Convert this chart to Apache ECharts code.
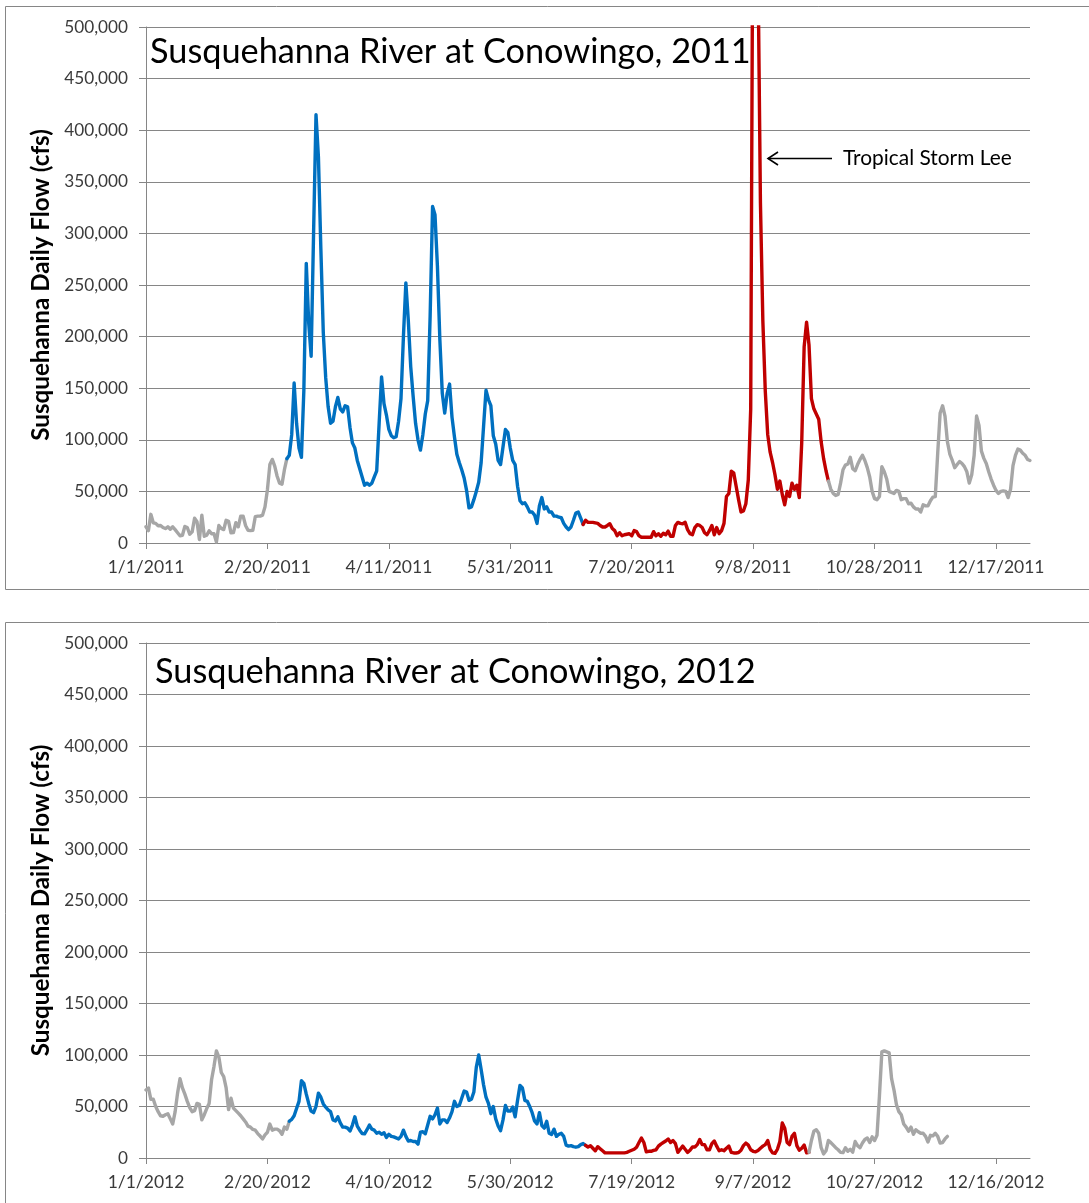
<!DOCTYPE html>
<html><head><meta charset="utf-8">
<script src="https://cdn.jsdelivr.net/npm/echarts@6/dist/echarts.min.js"></script>
<style>html,body{margin:0;padding:0;background:#fff}#c{width:1089px;height:1203px}</style>
</head><body><div id="c"></div><script>
// ---------- data ----------
const tickDays = [0, 50, 100, 150, 200, 250, 300, 350];
const tickLabels2011 = ['1/1/2011','2/20/2011','4/11/2011','5/31/2011','7/20/2011','9/8/2011','10/28/2011','12/17/2011'];
const tickLabels2012 = ['1/1/2012','2/20/2012','4/10/2012','5/30/2012','7/19/2012','9/7/2012','10/27/2012','12/16/2012'];
const flowTicks = [0, 50000, 100000, 150000, 200000, 250000, 300000, 350000, 400000, 450000, 500000];

// daily flow in thousand cfs, index = day of year (0 = Jan 1)
const flow2011 = [
 15.7,12,27.8,19.6,19,16.7,17,15,14,15.7, 13.4,15.7,13,10,7,7.5,16,15,8.5,10.8,
 24,20.6,3.3,27,6.5,7.5,11.8,9,9,1, 17,14,13,22,21,9.8,10,19.6,15.7,26,
 26,17,12.4,12,12.4,25.5,26,26,27,35, 51.7,76,81,74.5,64.7,58,57,71,81.7,85,
 105,155,116,92,83,148,271,213,181,300, 415,374,285,204,160,132,116,118,132,141,
 130,127,133,132,112,97,92,80,72,64, 56,58,56,58,64,70,116,161,135,124,
 110,104,102,103,118,140,200,252,216,171, 142,116,100,90,105,125,138,220,326,318,
 268,197,145,126,145,154,122,103,86,78, 71,63,51,34,35,42,50,59,78,113,
 148,139,133,104,96,80,76,93,110,107, 92,80,76,55,41,38,39,35,30,30,
 27,19,36,44,33,35,30,30,26,26, 25,24.5,19,15.5,13,15.5,22,29,30,24,
 18,22,20,20,20,19.5,19,17,15.5,15.5, 17,18.7,14,12,7,10,7,8,8.5,9,
 7,12,11,7,5.6,5.6,5.6,5.6,5.6,11, 7,9,6.5,9.5,8,11.5,6.5,6.5,17,20,
 19,18.7,20,13,9,8,15,17.7,17,15, 10,8,12,17,8,15,9,12,19,45,
 48,69.5,68,55,42,30,31,38,61,130, 700,780,560,330,215,147,105,88,78,66,
 52,60,47,37,50,45,58,52,56,44, 97,190,214,192,140,130,125,120,98,82,
 70,60,52,48,46,47,58,71,75.5,76.5, 83,72,70,76,81,85,80,73,64,50,
 43,42,45,74,69,62,50,49,48,51, 50,42,43,43,38,38.5,35,33,33,30,
 37,36,36,41,44.5,45,87,126,133,123, 98,86,80,73,76,79,77,74,69,58,
 66,85,123,114,89,82,77,69,62,56, 51,48,50,50.5,50,44,52,75,85,91,
 90,87,85,81,80
];
const flow2012 = [
 66,68,57,57,50,45,41,40.5,42,43, 38,33,45,63,77,68,62,55,49,45,
 46,53,52,37,42,48,53,76,89,104, 98,83,79,68,47,58,48.5,46,43.5,41,
 38,35,31,30,27.7,27,23.7,21.3,18.5,22.5, 25,33,27,28,28,26.5,23,30,28,35.7,
 37.5,41,48,55,75,72.5,62,53,45.5,44, 50,63,59,52.5,49.3,46.7,45,37,36,40,
 34,30,30,29,26.2,32,40,31,27,23.8, 23.5,27.5,32,28,27,24,25,23,24.5,20,
 23,21,20.5,19.5,18.5,21,27,21,16.5,17, 16,16,13.5,25,25.5,23.5,32,40.5,38,42,
 48.5,33,37,37,34.5,39,45,55,50,51, 58,65,64,56,57,64,88,100,86,71,
 59,53,43,50,38,31,26.5,37,51,45.5, 45.5,49.5,40,56,70.5,68,56,55,50,44,
 36,33,44,31.5,29,35.7,24,22.8,28,21, 23,24,21,12.5,11.5,12,11,10.5,11,13,
 14,12.3,10.7,12,9.5,7,11,9,7,5, 5,5,5,5,5,5,5,5,5.5,6.5,
 7.5,8.5,10.5,15,19.5,15,6,6.5,6.5,7.3, 8,11.5,13.5,15,16.5,18.5,15,17,14,5.5,
 8.5,11.5,8.5,5.5,7.5,10.7,10.7,13,18,13, 13,8,8,14,16.5,11.5,7,8,7,9.5,
 11.5,5.5,4.9,4.9,5.3,7.5,12,14.5,12.5,8, 6.5,6,7.3,9.5,11.5,13,17,8.5,5,4.5,
 8.5,16,34,29,15,13,21,24,12,7.5, 9.5,12.5,5,5.5,17,26,27.5,24,10,4,
 7,17,15,12.5,10,8,5.5,5.2,10,6.5, 8.5,5.7,16,12,10,14.5,18,19.5,15,20.5,
 17,22,60,103,104,103,102,77,66,52, 45,42,33,30,26,30,23,27.5,25.5,24,
 24,21,15.5,22,21.5,24,21,14.5,15,18.5, 21
];
// days where the colour (season) changes: winter | spring | summer | autumn
const breaks2011 = [58, 180, 281];
const breaks2012 = [59, 181, 273];
const titles = ['Susquehanna River at Conowingo, 2011', 'Susquehanna River at Conowingo, 2012'];
const yAxisTitle = 'Susquehanna Daily Flow (cfs)';
const annotationText = 'Tropical Storm Lee';

// ---------- build ----------
const GRAY = '#A6A6A6', BLUE = '#0070C0', RED = '#C00000';
const AXIS = '#868686', TXT = '#3A3A3A';
const FONT = 'Lato';

function seg(arr, from, to) {
  const out = [];
  for (let d = from; d <= Math.min(to, arr.length - 1); d++) out.push([d, arr[d] * 1000]);
  return out;
}
function yearSeries(arr, br, idx) {
  const bounds = [0, br[0], br[1], br[2], arr.length - 1];
  const cols = [GRAY, BLUE, RED, GRAY];
  return cols.map((c, i) => ({
    type: 'line', xAxisIndex: idx, yAxisIndex: idx,
    data: seg(arr, bounds[i], bounds[i + 1]),
    showSymbol: false, symbol: 'none', clip: true, z: 3,
    lineStyle: { color: c, width: 3.4, join: 'round', cap: 'round' },
    animation: false
  }));
}

function measure(text, font) {
  const cv = document.createElement('canvas').getContext('2d');
  cv.font = font; return cv.measureText(text).width;
}
const titleSize = Math.round(601 / measure(titles[0], '100px ' + FONT) * 1000) / 10;
const nameSize = Math.round(312 / measure(yAxisTitle, 'bold 100px ' + FONT) * 1000) / 10;
const noteSize = Math.round(169 / measure(annotationText, '100px ' + FONT) * 1000) / 10;

const tickMap2011 = {}, tickMap2012 = {};
tickDays.forEach((d, i) => { tickMap2011[d] = tickLabels2011[i]; tickMap2012[d] = tickLabels2012[i]; });

function xAx(idx, map) {
  return {
    type: 'value', gridIndex: idx, min: 0, max: 364,
    axisLine: { show: true, lineStyle: { color: AXIS, width: 1 } },
    axisTick: { show: true, customValues: tickDays, length: 6, inside: false, lineStyle: { color: AXIS } },
    axisLabel: { customValues: tickDays, formatter: v => map[v] || '', fontFamily: FONT, fontSize: 17.5, color: TXT, margin: 15 },
    splitLine: { show: false }
  };
}
function yAx(idx) {
  return {
    type: 'value', gridIndex: idx, min: 0, max: 500000, interval: 50000,
    axisLine: { show: true, lineStyle: { color: AXIS, width: 1 } },
    axisTick: { show: true, length: 7, lineStyle: { color: AXIS } },
    axisLabel: { formatter: v => v.toLocaleString('en-US'), fontFamily: FONT, fontSize: 17.2, color: TXT, margin: 18 },
    splitLine: { show: true, lineStyle: { color: AXIS, width: 1 } },
    name: yAxisTitle, nameLocation: 'middle', nameRotate: 90, nameGap: 89,
    nameTextStyle: { fontFamily: FONT, fontWeight: 'bold', fontSize: nameSize, color: '#000' }
  };
}

const chart = echarts.init(document.getElementById('c'), null, { renderer: 'canvas' });
chart.setOption({
  animation: false,
  backgroundColor: '#fff',
  title: [
    { text: titles[0], left: 145, top: 30, textStyle: { fontFamily: FONT, fontWeight: 'normal', fontSize: titleSize, color: '#000' } },
    { text: titles[1], left: 150, top: 650, textStyle: { fontFamily: FONT, fontWeight: 'normal', fontSize: titleSize, color: '#000' } }
  ],
  grid: [
    { left: 146, top: 27, width: 884, height: 516 },
    { left: 146, top: 643, width: 884, height: 515 }
  ],
  xAxis: [xAx(0, tickMap2011), xAx(1, tickMap2012)],
  yAxis: [yAx(0), yAx(1)],
  series: [...yearSeries(flow2011, breaks2011, 0), ...yearSeries(flow2012, breaks2012, 1)],
  graphic: [
    { type: 'rect', shape: { x: 5.5, y: 6.5, width: 1200, height: 583 }, style: { fill: 'none', stroke: AXIS, lineWidth: 1 }, silent: true, z: 0 },
    { type: 'rect', shape: { x: 5.5, y: 622.5, width: 1200, height: 700 }, style: { fill: 'none', stroke: AXIS, lineWidth: 1 }, silent: true, z: 0 },
    { type: 'polyline', shape: { points: [[832, 158.5], [768, 158.5]] }, style: { stroke: '#000', lineWidth: 1.6, fill: 'none' }, z: 10 },
    { type: 'polyline', shape: { points: [[778, 152], [768, 158.5], [778, 165]] }, style: { stroke: '#000', lineWidth: 1.6, fill: 'none' }, z: 10 },
    { type: 'text', x: 843, y: 158, style: { text: annotationText, font: noteSize + 'px ' + FONT, fill: '#000', textVerticalAlign: 'middle' }, z: 10 }
  ]
});
</script></body></html>
